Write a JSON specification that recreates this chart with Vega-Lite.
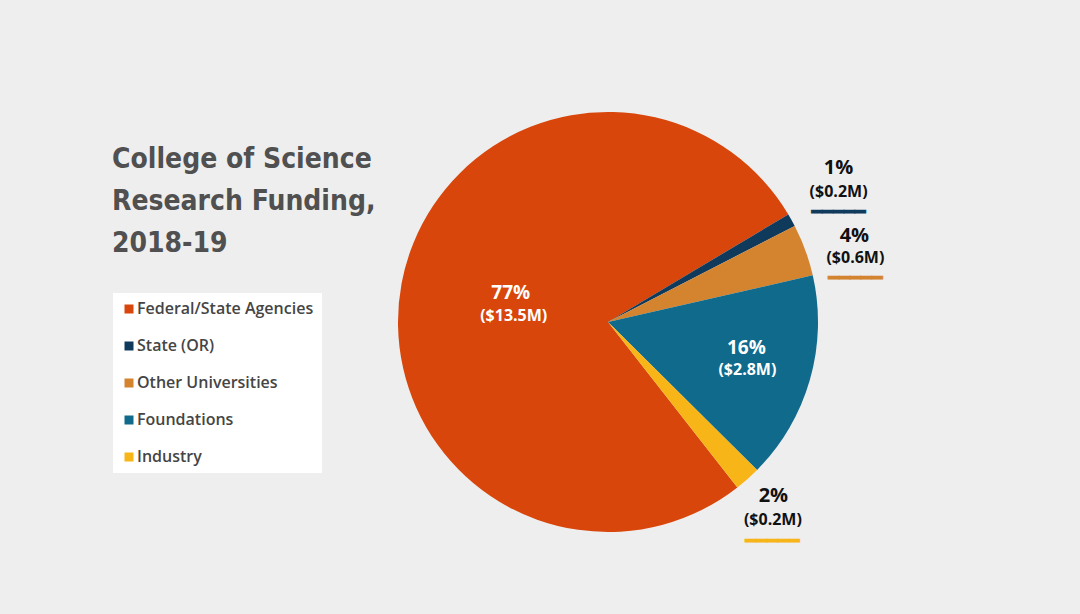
{
  "$schema": "https://vega.github.io/schema/vega-lite/v6.json",
  "autosize": {"type": "none"},
  "padding": {"left": 136, "top": 30, "right": 0, "bottom": 0},
  "width": 944,
  "height": 584,
  "background": "#eeeeee",
  "config": {"view": {"stroke": null}},
  "title": {
    "text": ["College of Science", "Research Funding,", "2018-19"],
    "anchor": "start",
    "orient": "top",
    "baseline": "top",
    "offset": 0,
    "dx": -1,
    "dy": 228,
    "lineHeight": 42,
    "font": "DejaVu Sans Condensed",
    "fontSize": 28,
    "fontWeight": "bold",
    "color": "#505050"
  },
  "data": {
    "values": [
      {"source": "Federal/State Agencies", "rank": 1, "pct": 77, "pct_label": "77%", "amt_label": "($13.5M)"},
      {"source": "State (OR)", "rank": 2, "pct": 1, "pct_label": "1%", "amt_label": "($0.2M)"},
      {"source": "Other Universities", "rank": 3, "pct": 4, "pct_label": "4%", "amt_label": "($0.6M)"},
      {"source": "Foundations", "rank": 4, "pct": 16, "pct_label": "16%", "amt_label": "($2.8M)"},
      {"source": "Industry", "rank": 5, "pct": 2, "pct_label": "2%", "amt_label": "($0.2M)"}
    ]
  },
  "encoding": {
    "theta": {"field": "pct", "type": "quantitative", "stack": true, "scale": {"range": [2.478, 8.761]}},
    "color": {
      "field": "source",
      "type": "nominal",
      "scale": {
        "domain": ["Federal/State Agencies", "State (OR)", "Other Universities", "Foundations", "Industry"],
        "range": ["#d8460b", "#0f3a5c", "#d4832f", "#0f6a8c", "#f7b517"]
      },
      "legend": {
        "orient": "none",
        "legendX": -23,
        "legendY": 263,
        "title": null,
        "fillColor": "white",
        "padding": 8,
        "symbolType": "square",
        "symbolSize": 81,
        "symbolStrokeWidth": 0,
        "labelFont": "Open Sans",
        "labelFontSize": 16,
        "labelFontWeight": 600,
        "labelColor": "#454545",
        "labelOffset": 0,
        "rowPadding": 21,
        "labelLimit": 300
      }
    },
    "detail": {"field": "source", "type": "nominal"},
    "order": {"field": "rank", "type": "quantitative"}
  },
  "layer": [
    {"mark": {"type": "arc", "outerRadius": 210}},
    {
      "mark": {"type": "text", "radius": 102, "dx": 3, "dy": -10, "font": "Open Sans", "fontWeight": "bold", "fontSize": 19, "align": "center", "baseline": "middle"},
      "encoding": {"color": {"value": "white"}, "text": {"condition": {"test": "datum.source === 'Federal/State Agencies'", "field": "pct_label"}, "value": ""}}
    },
    {
      "mark": {"type": "text", "radius": 102, "dx": 6, "dy": 13, "font": "Open Sans", "fontWeight": "bold", "fontSize": 16, "align": "center", "baseline": "middle"},
      "encoding": {"color": {"value": "white"}, "text": {"condition": {"test": "datum.source === 'Federal/State Agencies'", "field": "amt_label"}, "value": ""}}
    },
    {
      "mark": {"type": "text", "radius": 145, "dx": -1, "dy": -14, "font": "Open Sans", "fontWeight": "bold", "fontSize": 19, "align": "center", "baseline": "middle"},
      "encoding": {"color": {"value": "white"}, "text": {"condition": {"test": "datum.source === 'Foundations'", "field": "pct_label"}, "value": ""}}
    },
    {
      "mark": {"type": "text", "radius": 145, "dx": 0, "dy": 8.5, "font": "Open Sans", "fontWeight": "bold", "fontSize": 16, "align": "center", "baseline": "middle"},
      "encoding": {"color": {"value": "white"}, "text": {"condition": {"test": "datum.source === 'Foundations'", "field": "amt_label"}, "value": ""}}
    },
    {
      "mark": {"type": "text", "radius": 258, "dx": 5, "dy": -29, "font": "Open Sans", "fontWeight": "bold", "fontSize": 20, "align": "center", "baseline": "middle"},
      "encoding": {"color": {"value": "#111111"}, "text": {"condition": {"test": "datum.source === 'State (OR)'", "field": "pct_label"}, "value": ""}}
    },
    {
      "mark": {"type": "text", "radius": 258, "dx": 5, "dy": -4.5, "font": "Open Sans", "fontWeight": "bold", "fontSize": 16, "align": "center", "baseline": "middle"},
      "encoding": {"color": {"value": "#111111"}, "text": {"condition": {"test": "datum.source === 'State (OR)'", "field": "amt_label"}, "value": ""}}
    },
    {
      "mark": {"type": "text", "radius": 258, "dx": 5, "dy": 16, "font": "DejaVu Sans", "fontSize": 18, "strokeWidth": 0.8, "align": "center", "baseline": "middle"},
      "encoding": {"stroke": {"value": "#0f3a5c"}, "text": {"condition": {"test": "datum.source === 'State (OR)'", "value": "━━━━━"}, "value": ""}}
    },
    {
      "mark": {"type": "text", "radius": 258, "dx": 4, "dy": 2, "font": "Open Sans", "fontWeight": "bold", "fontSize": 20, "align": "center", "baseline": "middle"},
      "encoding": {"color": {"value": "#111111"}, "text": {"condition": {"test": "datum.source === 'Other Universities'", "field": "pct_label"}, "value": ""}}
    },
    {
      "mark": {"type": "text", "radius": 258, "dx": 5, "dy": 24, "font": "Open Sans", "fontWeight": "bold", "fontSize": 16, "align": "center", "baseline": "middle"},
      "encoding": {"color": {"value": "#111111"}, "text": {"condition": {"test": "datum.source === 'Other Universities'", "field": "amt_label"}, "value": ""}}
    },
    {
      "mark": {"type": "text", "radius": 258, "dx": 5, "dy": 45, "font": "DejaVu Sans", "fontSize": 18, "strokeWidth": 0.8, "align": "center", "baseline": "middle"},
      "encoding": {"stroke": {"value": "#d4832f"}, "text": {"condition": {"test": "datum.source === 'Other Universities'", "value": "━━━━━"}, "value": ""}}
    },
    {
      "mark": {"type": "text", "radius": 258, "dx": -6, "dy": -19, "font": "Open Sans", "fontWeight": "bold", "fontSize": 20, "align": "center", "baseline": "middle"},
      "encoding": {"color": {"value": "#111111"}, "text": {"condition": {"test": "datum.source === 'Industry'", "field": "pct_label"}, "value": ""}}
    },
    {
      "mark": {"type": "text", "radius": 258, "dx": -6.5, "dy": 5, "font": "Open Sans", "fontWeight": "bold", "fontSize": 16, "align": "center", "baseline": "middle"},
      "encoding": {"color": {"value": "#111111"}, "text": {"condition": {"test": "datum.source === 'Industry'", "field": "amt_label"}, "value": ""}}
    },
    {
      "mark": {"type": "text", "radius": 258, "dx": -7, "dy": 27, "font": "DejaVu Sans", "fontSize": 18, "strokeWidth": 0.8, "align": "center", "baseline": "middle"},
      "encoding": {"stroke": {"value": "#f7b517"}, "text": {"condition": {"test": "datum.source === 'Industry'", "value": "━━━━━"}, "value": ""}}
    }
  ]
}
